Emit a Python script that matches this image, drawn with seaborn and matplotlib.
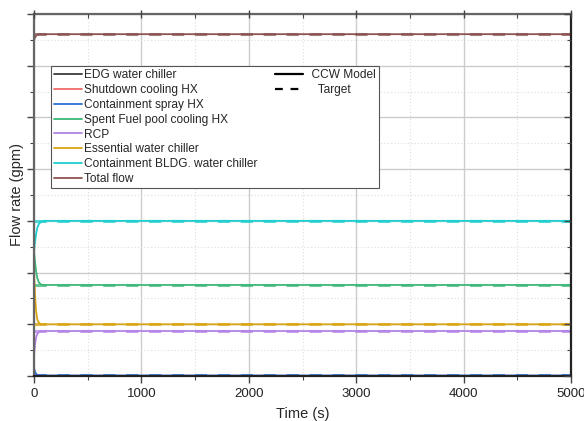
import matplotlib
matplotlib.use("Agg")
import matplotlib.pyplot as plt
from matplotlib.lines import Line2D
from matplotlib.ticker import MultipleLocator, NullFormatter
import seaborn as sns
import pandas as pd

# ---- data ----
series_names = ["EDG water chiller", "Shutdown cooling HX", "Containment spray HX",
                "Spent Fuel pool cooling HX", "RCP", "Essential water chiller",
                "Containment BLDG. water chiller", "Total flow"]
series_colors = ["#3a3a3a", "#f26b6b", "#2a6fd6", "#3cb878", "#b483e6", "#d9a514",
                 "#1ccfd0", "#8c5353"]

model_t = [0, 10, 20, 30, 45, 65, 90, 5000]
edg_model = [0.0, 0.0, 0.0, 0.0, 0.0, 0.0, 0.0, 0.0]
sdc_model = [0.0, 0.0, 0.0, 0.0, 0.0, 0.0, 0.0, 0.0]
csp_model = [0.15, 0.08, 0.04, 0.02, 0.01, 0.01, 0.01, 0.01]
sfp_model = [2.4, 2.2, 2.02, 1.9, 1.81, 1.77, 1.76, 1.76]
rcp_model = [0.4, 0.62, 0.75, 0.81, 0.85, 0.87, 0.87, 0.87]
ewc_model = [2.0, 1.55, 1.25, 1.1, 1.03, 1.0, 1.0, 1.0]
cbw_model = [2.4, 2.6, 2.75, 2.86, 2.94, 2.98, 3.0, 3.0]
tot_model = [6.5, 6.55, 6.58, 6.6, 6.61, 6.61, 6.61, 6.61]

target_t = [0, 5000, 5000]
edg_target = [0.0, 0.0, 0.0]
sdc_target = [0.0, 0.0, 0.0]
csp_target = [0.01, 0.01, 0.01]
sfp_target = [1.76, 1.76, 1.76]
rcp_target = [0.87, 0.87, 0.87]
ewc_target = [1.0, 1.0, 1.0]
cbw_target = [3.0, 3.0, 0.0]
tot_target = [6.61, 6.61, 6.61]

x_ticks = [0, 1000, 2000, 3000, 4000, 5000]
x_label = "Time (s)"
y_label = "Flow rate (gpm)"
legend_style_labels = ["  CCW Model", "    Target"]

models = [edg_model, sdc_model, csp_model, sfp_model, rcp_model, ewc_model, cbw_model, tot_model]
targets = [edg_target, sdc_target, csp_target, sfp_target, rcp_target, ewc_target, cbw_target, tot_target]

sns.set_style("white")
plt.rcParams["font.family"] = ["Liberation Sans", "DejaVu Sans"]

fig = plt.figure(figsize=(5.84, 4.21), dpi=100)
rect = [34/584, 45/421, 537/584, 362/421]
ax = fig.add_axes(rect)

ax.set_xlim(0, 5000)
ax.set_ylim(0, 7)
ax.xaxis.set_major_locator(MultipleLocator(1000))
ax.xaxis.set_minor_locator(MultipleLocator(500))
ax.yaxis.set_major_locator(MultipleLocator(1))
ax.yaxis.set_minor_locator(MultipleLocator(0.5))
ax.yaxis.set_major_formatter(NullFormatter())
ax.grid(which="major", color="#cccccc", lw=1.0, ls="-", zorder=0)
ax.grid(which="minor", color="#dddddd", lw=0.8, ls=(0, (1, 2)), zorder=0)
ax.set_axisbelow(True)

for name, col, tv in zip(series_names, series_colors, targets):
    df = pd.DataFrame({"t": target_t, "v": tv})
    sns.lineplot(data=df, x="t", y="v", ax=ax, color=col, lw=2.2, alpha=0.75,
                 estimator=None, sort=False, legend=False)
    ax.lines[-1].set_linestyle((0, (4, 3.5)))
for name, col, mv in zip(series_names, series_colors, models):
    df = pd.DataFrame({"t": model_t, "v": mv})
    sns.lineplot(data=df, x="t", y="v", ax=ax, color=col, lw=1.3,
                 estimator=None, sort=False, legend=False)

ax.set_xticks(x_ticks)
ax.set_xticklabels([str(v) for v in x_ticks], fontsize=9.5, color="#222222")
ax.set_xlabel(x_label, fontsize=10.5, labelpad=5)
ax.set_ylabel(y_label, fontsize=10.5, labelpad=-1)

ax.tick_params(axis="x", which="major", direction="out", length=5, width=1, color="#444444")
ax.tick_params(axis="x", which="minor", direction="out", length=3, width=0.8, color="#444444")
ax.tick_params(axis="y", which="major", direction="out", length=5, width=1, color="#444444")
ax.tick_params(axis="y", which="minor", direction="out", length=3, width=0.8, color="#444444")
for side in ["left", "top"]:
    ax.spines[side].set_color("#666666")
    ax.spines[side].set_linewidth(1.6)
for side in ["bottom", "right"]:
    ax.spines[side].set_color("#222222")
    ax.spines[side].set_linewidth(1.6)

# inward ticks on the top and right edges
axr = ax.twinx()
axr.set_ylim(0, 7)
axr.yaxis.set_major_locator(MultipleLocator(1))
axr.yaxis.set_minor_locator(MultipleLocator(0.5))
axr.yaxis.set_major_formatter(NullFormatter())
axr.tick_params(axis="y", which="major", direction="in", length=5, width=1, color="#444444")
axr.tick_params(axis="y", which="minor", direction="in", length=3, width=0.8, color="#444444")
axt = ax.twiny()
axt.set_xlim(0, 5000)
axt.xaxis.set_major_locator(MultipleLocator(1000))
axt.xaxis.set_minor_locator(MultipleLocator(500))
axt.xaxis.set_major_formatter(NullFormatter())
axt.tick_params(axis="x", which="major", direction="inout", length=6, width=1, color="#444444")
axt.tick_params(axis="x", which="minor", direction="in", length=3, width=0.8, color="#444444")
for a in (axr, axt):
    for s in a.spines.values():
        s.set_visible(False)

handles = [Line2D([], [], color=c, lw=1.3) for c in series_colors]
labels = list(series_names)
handles += [Line2D([], [], color="black", lw=1.6),
            Line2D([], [], color="black", lw=1.6, ls=(0, (3.5, 3.5)))]
labels += legend_style_labels
blank = Line2D([], [], color="none")
handles += [blank] * 6
labels += [""] * 6
leg = axt.legend(handles, labels, ncol=2, loc="upper left", bbox_to_anchor=(0.032, 0.856),
                 fontsize=8.6, frameon=True, fancybox=False, framealpha=1,
                 edgecolor="#555555", borderpad=0.25, labelspacing=0.24, handlelength=2.3,
                 handletextpad=0.2, columnspacing=1.5, borderaxespad=0)
leg.get_frame().set_linewidth(0.8)

fig.savefig("out.png", dpi=100)
